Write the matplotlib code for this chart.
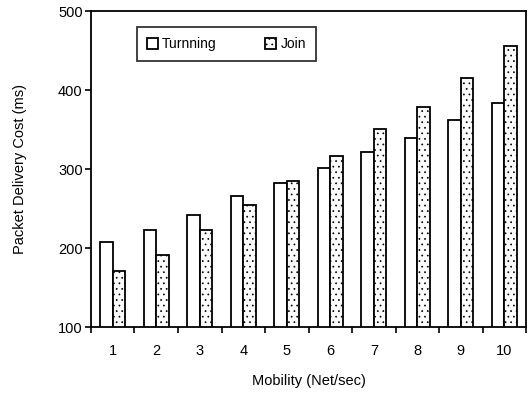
import matplotlib
matplotlib.use('Agg')
import matplotlib.pyplot as plt
import numpy as np

plt.rcParams['font.family'] = ['Liberation Sans', 'DejaVu Sans']
plt.rcParams['hatch.color'] = '#b5b5b5'
plt.rcParams['hatch.linewidth'] = 0.5

mobility = [1, 2, 3, 4, 5, 6, 7, 8, 9, 10]
turnning = [208, 223, 242, 266, 282, 301, 321, 339, 362, 383]
join = [171, 191, 223, 254, 285, 317, 351, 378, 415, 456]

fig = plt.figure(figsize=(5.32, 3.95), dpi=100)
ax = fig.add_axes([0.171, 0.172, 0.818, 0.800])

x = np.arange(len(mobility)) + 1
w = 0.29
ax.bar(x - w / 2, turnning, w, facecolor='white', edgecolor='black',
       linewidth=1.3, label='Turnning')
ax.bar(x + w / 2, join, w, facecolor='#fcfcfc', edgecolor='black',
       linewidth=1.3, hatch='...', label='Join')

ax.set_xlim(0.5, 10.5)
ax.set_ylim(100, 500)
ax.set_yticks([100, 200, 300, 400, 500])
ax.set_xticks(x)
ax.set_xticklabels([str(m) for m in mobility])
ax.set_xticks(np.arange(0.5, 11, 1), minor=True)
ax.tick_params(axis='x', which='major', length=0, pad=12, labelsize=10.5)
ax.tick_params(axis='x', which='minor', length=4, width=1.2, direction='out')
ax.tick_params(axis='y', length=4, width=1.2, labelsize=10.5, pad=2)

for s in ax.spines.values():
    s.set_linewidth(1.3)

ax.set_xlabel('Mobility (Net/sec)', fontsize=10.5, labelpad=12)
ax.set_ylabel('Packet Delivery Cost (ms)', fontsize=10.5, labelpad=22)

leg = ax.legend(loc='upper left', bbox_to_anchor=(0.09, 0.97), ncol=2,
                fontsize=10, frameon=True, fancybox=False, handlelength=0.8,
                handleheight=0.8, columnspacing=3.5, borderpad=0.7,
                handletextpad=0.3)
leg.get_frame().set_edgecolor('black')
leg.get_frame().set_linewidth(1.3)

plt.savefig('out.png', dpi=100)
plt.close()
